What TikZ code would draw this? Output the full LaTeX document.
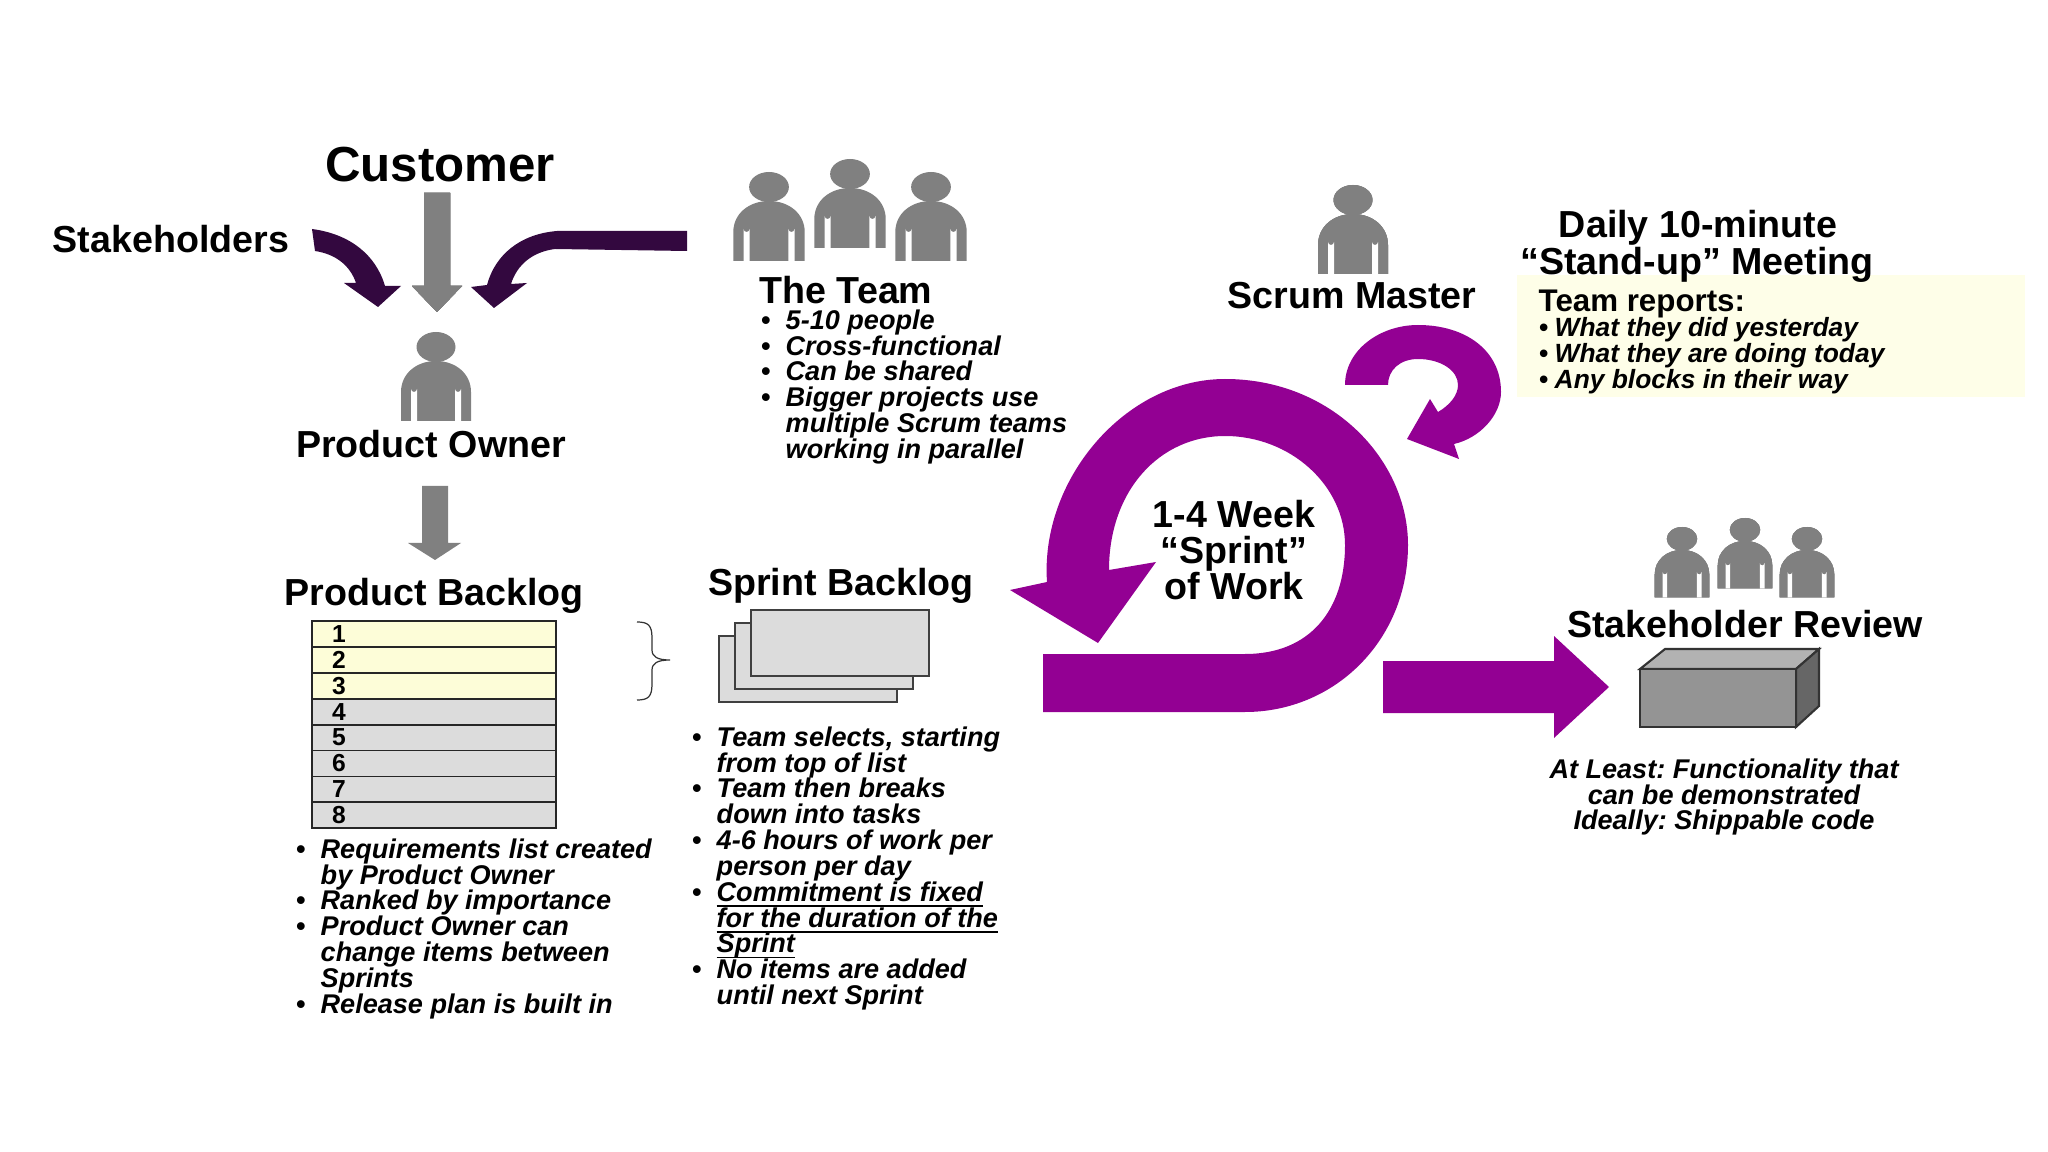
\documentclass[tikz,border=0pt]{standalone}
\usepackage{fontspec}
\setmainfont{Liberation Sans}
\usepackage{xcolor}
\usepackage{tikz}
\usetikzlibrary{calc}
\definecolor{scrum}{HTML}{930093}
\definecolor{plum}{HTML}{33083F}
\definecolor{ashg}{HTML}{808080}
\definecolor{paleg}{HTML}{DCDCDC}
\definecolor{paley}{HTML}{FDFDD8}
\newcommand{\tightl}{\setlength{\lineskiplimit}{-9pt}\frenchspacing}
\tikzstyle{hd} = [inner sep=0pt, font={\bfseries\fontsize{10.7}{10.2}\selectfont\tightl}]
\tikzstyle{ls} = [inner sep=0pt, anchor=north west, align=left, font={\bfseries\itshape\fontsize{7.7}{7.34}\selectfont\tightl}]
\tikzstyle{row} = [rectangle, draw=black!85, line width=0.5pt, minimum width=2.44cm, minimum height=0.259cm, inner sep=0pt]
\tikzstyle{sheet} = [draw=black!75, line width=0.5pt, fill=paleg]
\newcommand{\bl}[1][4.4pt]{\leavevmode\llap{\textbullet\hspace{#1}}}
\newcommand{\ulin}[1]{\underline{\smash{#1}}}
\newcommand{\person}[4]{
	\begin{scope}[shift={(#1,#2)},xscale=#3,yscale=#4]
		\fill[ashg] (0,15) ellipse[x radius=19.5, y radius=15];
		\fill[ashg] (-35,89) -- (-35,60) .. controls (-35,42) and (-20,29) .. (0,29)
			.. controls (20,29) and (35,42) .. (35,60) -- (35,89) -- cycle;
		\fill[white] (-25,89) -- (-25,57) arc[start angle=180, end angle=0, radius=3] -- (-19,89) -- cycle;
		\fill[white] (19,89) -- (19,57) arc[start angle=180, end angle=0, radius=3] -- (25,89) -- cycle;
	\end{scope}
}
\begin{document}
\begin{tikzpicture}[x=0.01cm,y=-0.01cm]
	\useasboundingbox (0,0) rectangle (2048,1152);
	%	people
	\person{436}{332}{1}{1}
	\foreach \px/\py in {769/172,850/159,931/172}
		\person{\px}{\py}{1.02}{1}
	\person{1353}{185}{1}{1}
	\foreach \px/\py in {1682/527,1745/518,1807/527}
		\person{\px}{\py}{0.78}{0.79}
	%	arrows into the product owner
	\fill[ashg] (424,193) -- (450,193) -- (450,286) -- (462,286) -- (437,312) -- (412,286) -- (424,286) -- cycle;
	\fill[ashg] (422,486) -- (448,486) -- (448,543) -- (461,543) -- (435,560) -- (408,543) -- (422,543) -- cycle;
	\fill[plum] (312,229) .. controls (350,234) and (376,255) .. (385,286) -- (401,286) -- (378,307) -- (344,283)
		-- (356,283) .. controls (350,265) and (335,254) .. (315,251) -- cycle;
	\fill[plum] (687,231) -- (557,231) .. controls (520,234) and (495,255) .. (487,285) -- (471,287) -- (494,308)
		-- (527,283) -- (511,284) .. controls (517,265) and (532,252) .. (555,249) -- (687,251) -- cycle;
	%	sprint and daily loops
	\fill[scrum] (1043,654) -- (1245,654) .. controls (1310,654) and (1345,610) .. (1345,545)
		.. controls (1345,485) and (1290,436) .. (1225,436) .. controls (1160,436) and (1109,490) .. (1109,570)
		-- (1156,562) -- (1098,643) -- (1010,590) -- (1047,582)
		.. controls (1040,480) and (1125,379) .. (1225,379) .. controls (1332,379) and (1408,460) .. (1408,545)
		.. controls (1408,640) and (1335,712) .. (1245,712) -- (1043,712) -- cycle;
	\fill[scrum] (1345,385) .. controls (1345,350) and (1380,325) .. (1418,325)
		.. controls (1465,325) and (1501,350) .. (1501,392) .. controls (1501,415) and (1480,438) .. (1454,444)
		-- (1459,459) -- (1407,439) -- (1430,399) -- (1438,412)
		.. controls (1450,405) and (1458,395) .. (1458,385) .. controls (1458,370) and (1440,359) .. (1418,359)
		.. controls (1400,359) and (1388,370) .. (1388,385) -- cycle;
	\fill[scrum] (1383,661) -- (1554,661) -- (1554,636) -- (1609,687) -- (1554,738) -- (1554,713) -- (1383,713) -- cycle;
	%	shippable box
	\draw[black!80, line width=0.6pt, fill=black!30] (1640,669) -- (1665,649) -- (1819,649) -- (1796,669) -- cycle;
	\draw[black!80, line width=0.6pt, fill=black!60] (1796,669) -- (1819,649) -- (1819,706) -- (1796,727) -- cycle;
	\draw[black!80, line width=0.6pt, fill=black!42] (1640,669) rectangle (1796,727);
	%	yellow panel
	\fill[paley!60] (1517,275) rectangle (2025,397);
	%	backlog rows
	\foreach \i/\c in {1/paley,2/paley,3/paley,4/paleg,5/paleg,6/paleg,7/paleg,8/paleg} {
		\node[row, fill=\c] (r\i) at (434,{621+25.9*(\i-1)+13}) {};
		\node[inner sep=0pt, font=\bfseries\fontsize{7}{8}\selectfont] (n\i) at ($(r\i.west)+(28,0)$) {\i};
	}
	\draw[black!80, line width=0.35pt] (637,622) .. controls (648,622) and (652,625) .. (652,638) -- (652,650)
		.. controls (652,657) and (658,660) .. (670,660) .. controls (658,660) and (652,663) .. (652,670) -- (652,684)
		.. controls (652,697) and (648,700) .. (637,700);
	\foreach \x/\y in {719/636,735/623,751/610}
		\draw[sheet] (\x,\y) rectangle ++(178,66);
	%	headings
	\node[hd, font=\bfseries\fontsize{14}{15}\selectfont] (cust) at (440,165) {Customer};
	\node[hd] (stake) at (171,239) {Stakeholders};
	\node[hd] (po) at (431,444) {Product Owner};
	\node[hd] (pb) at (434,596) {Product Backlog};
	\node[hd] (sb) at (841,586) {Sprint Backlog};
	\node[hd] (team) at (846,290) {The Team};
	\node[hd] (sm) at (1352,296) {Scrum Master};
	\node[hd] (daily) at (1698,228) {Daily 10-minute};
	\node[hd] (standup) at (1697,265) {``Stand-up'' Meeting};
	\node[hd] (review) at (1745,624) {Stakeholder Review};
	\node[hd, align=center] (sprint) at (1234,550) {1-4 Week\\``Sprint''\\of Work};
	%	lists
	\node[ls] (tl) at (785,309) {\bl 5-10 people\\
		\bl Cross-functional\\
		\bl Can be shared\\
		\bl Bigger projects use\\
		multiple Scrum teams\\
		working in parallel};
	\node[ls] (pl) at (320,838) {\bl Requirements list created\\
		by Product Owner\\
		\bl Ranked by importance\\
		\bl Product Owner can\\
		change items between\\
		Sprints\\
		\bl Release plan is built in};
	\node[ls] (sl) at (716,726) {\bl Team selects, starting\\
		from top of list\\
		\bl Team then breaks\\
		down into tasks\\
		\bl 4-6 hours of work per\\
		person per day\\
		\bl \ulin{Commitment is fixed}\\
		\ulin{for the duration of the}\\
		\ulin{Sprint}\\
		\bl No items are added\\
		until next Sprint};
	\node[ls, anchor=center, align=center] (least) at (1724,797) {At Least: Functionality that\\can be demonstrated\\Ideally: Shippable code};
	\node[hd, anchor=west, font=\bfseries\fontsize{8.9}{10}\selectfont] (rep) at (1538,304) {Team reports:};
	\node[ls, font={\bfseries\itshape\fontsize{7.5}{7.34}\selectfont\tightl}] (rl) at (1554,317) {\bl[1.9pt]What they did yesterday\\
		\bl[1.9pt]What they are doing today\\
		\bl[1.9pt]Any blocks in their way};
\end{tikzpicture}
\end{document}
